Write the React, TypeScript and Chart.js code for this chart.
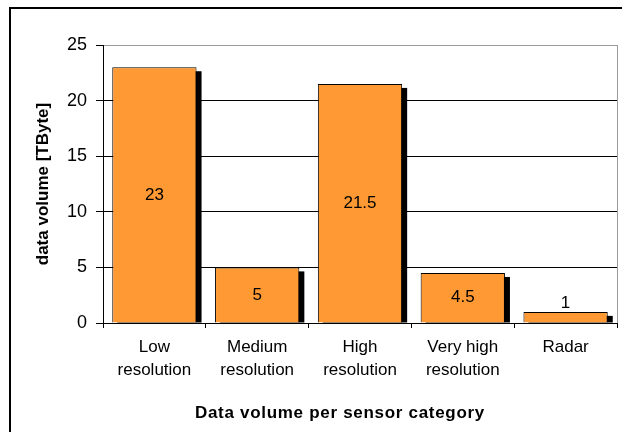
import React, { useEffect, useRef } from "react";
import { Chart, registerables } from "chart.js";

Chart.register(...registerables);

const categories: string[][] = [
  ["Low", "resolution"],
  ["Medium", "resolution"],
  ["High", "resolution"],
  ["Very high", "resolution"],
  ["Radar"],
];
const values: number[] = [23, 5, 21.5, 4.5, 1];
const valueLabels: string[] = ["23", "5", "21.5", "4.5", "1"];
const yTicks: number[] = [0, 5, 10, 15, 20, 25];
const yTitle = "data volume [TByte]";
const xTitle = "Data volume per sensor category";

const FONT = "'Liberation Sans', Arial, Helvetica, sans-serif";

const framePlugin = {
  id: "frame",
  beforeDraw(chart: any) {
    const { ctx, chartArea } = chart;
    ctx.save();
    ctx.strokeStyle = "#9a9a9a";
    ctx.lineWidth = 1;
    ctx.strokeRect(
      Math.round(chartArea.left) + 0.5,
      Math.round(chartArea.top) + 0.5,
      Math.round(chartArea.right - chartArea.left),
      Math.round(chartArea.bottom - chartArea.top)
    );
    ctx.restore();
  },
};

const shadowPlugin = {
  id: "barShadow",
  beforeDatasetsDraw(chart: any) {
    const { ctx } = chart;
    const meta = chart.getDatasetMeta(0);
    ctx.save();
    ctx.fillStyle = "#000";
    meta.data.forEach((el: any) => {
      const { x, y, base, width } = el.getProps(["x", "y", "base", "width"], true);
      const h = base - y - 4;
      if (h > 0) ctx.fillRect(x - width / 2 + 5, y + 4, width, h);
    });
    ctx.restore();
  },
};

const labelPlugin = {
  id: "valueLabels",
  afterDatasetsDraw(chart: any) {
    const { ctx } = chart;
    const meta = chart.getDatasetMeta(0);
    ctx.save();
    ctx.fillStyle = "#000";
    ctx.font = `17px ${FONT}`;
    ctx.textAlign = "center";
    meta.data.forEach((el: any, i: number) => {
      const { x, y, base } = el.getProps(["x", "y", "base"], true);
      const h = base - y;
      if (h > 30) {
        ctx.textBaseline = "middle";
        ctx.fillText(valueLabels[i], x, (y + base) / 2);
      } else {
        ctx.textBaseline = "alphabetic";
        ctx.fillText(valueLabels[i], x, y - 4);
      }
    });
    ctx.restore();
  },
};

const xTitlePlugin = {
  id: "xTitle",
  afterDraw(chart: any) {
    const { ctx } = chart;
    ctx.save();
    ctx.fillStyle = "#000";
    ctx.font = `bold 17px ${FONT}`;
    (ctx as any).letterSpacing = "0.7px";
    ctx.textAlign = "center";
    ctx.textBaseline = "alphabetic";
    ctx.fillText(xTitle, 340, 418);
    ctx.restore();
  },
};

export default function App() {
  const ref = useRef<HTMLCanvasElement | null>(null);

  useEffect(() => {
    if (!ref.current) return;
    const chart = new Chart(ref.current, {
      type: "bar",
      data: {
        labels: categories,
        datasets: [
          {
            data: values,
            backgroundColor: "#FF9933",
            borderColor: "#000",
            borderWidth: 1,
            barPercentage: 0.82,
            categoryPercentage: 1,
          },
        ],
      },
      options: {
        responsive: false,
        animation: false,
        layout: { padding: { left: 0, right: 5, top: 45, bottom: 0 } },
        plugins: {
          legend: { display: false },
          tooltip: { enabled: false },
        },
        scales: {
          x: {
            offset: true,
            grid: {
              display: true,
              drawOnChartArea: false,
              offset: true,
              color: "#000",
              tickLength: 5,
            },
            border: { display: true, color: "#000", width: 1 },
            ticks: {
              color: "#000",
              font: { family: FONT, size: 17, lineHeight: 1.35 },
              padding: 8,
              maxRotation: 0,
              autoSkip: false,
            },
            title: { display: false },
            afterFit(scale: any) {
              scale.height = 109;
            },
          },
          y: {
            min: 0,
            max: 25,
            afterBuildTicks(scale: any) {
              scale.ticks = yTicks.map((v) => ({ value: v }));
            },
            grid: {
              color: (c: any) => (c.tick && c.tick.value === 25 ? "#9a9a9a" : "#000"),
              tickColor: "#000",
              tickLength: 7,
            },
            border: { display: true, color: "#000", width: 1 },
            ticks: {
              color: "#000",
              font: { family: FONT, size: 18 },
              padding: 9,
            },
            title: {
              display: true,
              text: yTitle,
              color: "#000",
              font: { family: FONT, size: 17, weight: "bold" },
              padding: { top: 33, bottom: 0 },
            },
            afterFit(scale: any) {
              scale.width = 103;
            },
          },
        },
      },
      plugins: [framePlugin, shadowPlugin, labelPlugin, xTitlePlugin],
    });
    return () => chart.destroy();
  }, []);

  return (
    <div
      style={{
        position: "fixed",
        left: 0,
        top: 0,
        width: 622,
        height: 432,
        background: "#fff",
        overflow: "hidden",
      }}
    >
      <div
        style={{
          position: "absolute",
          left: 9,
          top: 7,
          width: 700,
          height: 500,
          border: "2px solid #000",
        }}
      />
      <canvas
        ref={ref}
        width={622}
        height={432}
        style={{ position: "absolute", left: 0, top: 0, width: 622, height: 432 }}
      />
    </div>
  );
}
